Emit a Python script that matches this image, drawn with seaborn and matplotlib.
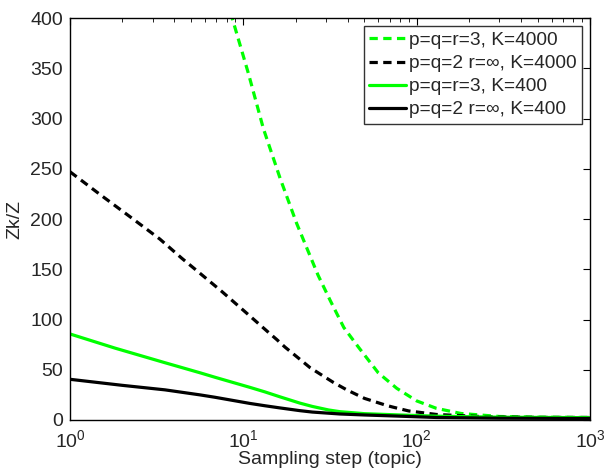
import numpy as np
import pandas as pd
import matplotlib
matplotlib.use("Agg")
import matplotlib.pyplot as plt
import seaborn as sns

# --- data ---
x_g4000 = [8.0, 8.69, 10.69, 13.05, 16.3, 20.3, 23, 27, 31.7, 38, 45.9, 60, 76.8, 100, 130, 180, 300, 500, 1000]
y_g4000 = [420, 398, 345, 290, 240.5, 195.7, 173, 144, 119, 92, 73, 47, 31.5, 19, 11.6, 6.5, 3.5, 2.8, 2.5]

x_b4000 = [1, 1.5, 2.27, 3.3, 4.41, 5.27, 7.5, 10.5, 14, 15.6, 17.4, 21, 24.3, 30, 33, 39.5, 50, 67, 73, 90, 130, 250, 500, 1000]
y_b4000 = [247, 224, 201, 180, 161, 150, 128, 106, 87, 80, 72.5, 61, 52, 42, 37.5, 30, 21.5, 14.5, 12.8, 9, 5.5, 3.2, 2.6, 2.5]

x_g400 = [1, 1.82, 3.53, 5.62, 6.87, 10.9, 13.3, 16.3, 21.2, 25, 31, 36, 50, 80, 130, 300, 1000]
y_g400 = [85.6, 71.5, 57, 47, 42.5, 32.5, 28, 23, 16.8, 13.5, 10, 8.3, 6.3, 5, 3.8, 2.8, 2.3]

x_b400 = [1, 2, 3.53, 5.62, 6.87, 10.9, 13.3, 16.3, 21.2, 25, 36, 50, 80, 130, 300, 1000]
y_b400 = [40.5, 34.5, 30, 25, 22.6, 16.5, 14.2, 12, 9.3, 7.9, 6, 5, 3.8, 2.5, 1.8, 1.5]

labels = ["p=q=r=3, K=4000", "p=q=2 r=\u221e, K=4000",
          "p=q=r=3, K=400", "p=q=2 r=\u221e, K=400"]

sns.set_theme(style="white")
plt.rcParams['font.family'] = ['Liberation Sans', 'DejaVu Sans']
plt.rcParams['mathtext.fontset'] = 'custom'
plt.rcParams['mathtext.rm'] = 'Liberation Sans'
plt.rcParams['mathtext.it'] = 'Liberation Sans:italic'
plt.rcParams['mathtext.bf'] = 'Liberation Sans:bold'

fig = plt.figure(figsize=(6.05, 4.68), dpi=100)
ax = fig.add_axes([70/605, 48/468, 520/605, 402/468])

GREEN = "#00ff00"
dash = (0, (2.6, 1.7))
series = [
    (x_g4000, y_g4000, GREEN, dash, labels[0]),
    (x_b4000, y_b4000, "black", dash, labels[1]),
    (x_g400, y_g400, GREEN, "-", labels[2]),
    (x_b400, y_b400, "black", "-", labels[3]),
]
for xs, ys, c, ls, lab in series:
    df = pd.DataFrame({"x": xs, "y": ys})
    sns.lineplot(data=df, x="x", y="y", ax=ax, color=c, linewidth=2.3,
                 linestyle=ls, label=lab, estimator=None, sort=True)

ax.set_xscale("log")
ax.set_xlim(1, 1000)
ax.set_ylim(0, 400)
ax.set_yticks(range(0, 401, 50))
ax.set_xlabel("Sampling step (topic)", fontsize=14, labelpad=0)
ax.set_ylabel("Zk/Z", fontsize=14, labelpad=5)
ax.tick_params(axis="both", which="both", direction="in", top=True, right=True,
               labelsize=14, color="black")
ax.tick_params(which="major", length=5, width=0.8)
ax.tick_params(which="minor", length=3, width=0.6)
ax.tick_params(axis="x", pad=6.5)
ax.tick_params(axis="y", pad=5)
for s in ax.spines.values():
    s.set_color("black")
    s.set_linewidth(1.0)

leg = ax.legend(loc="upper right", fontsize=13.75, frameon=True, fancybox=False,
                handlelength=1.9, handletextpad=0.15, borderpad=0.3,
                labelspacing=0.3, borderaxespad=0.42)
leg.get_frame().set_edgecolor("black")
leg.get_frame().set_linewidth(1.0)

fig.savefig("out.png", dpi=100)
